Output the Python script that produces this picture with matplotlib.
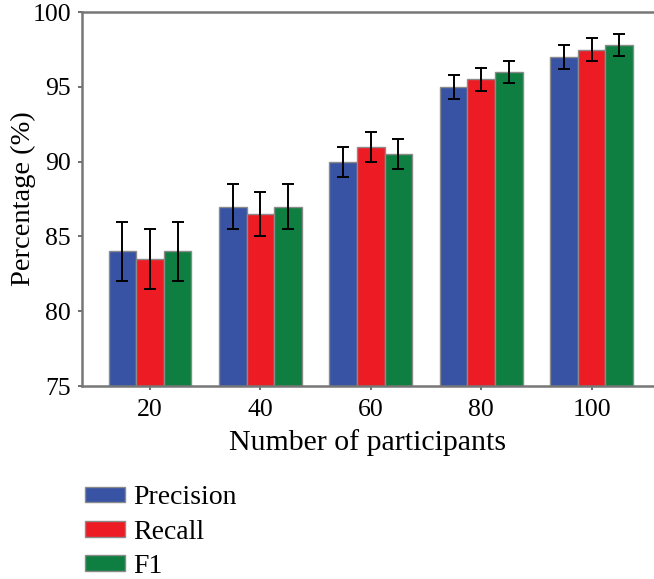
import numpy as np
import matplotlib
matplotlib.use("Agg")
import matplotlib.pyplot as plt

# Data
participants = ["20", "40", "60", "80", "100"]
precision = [84.0, 87.0, 90.0, 95.0, 97.0]
precision_err = [2.0, 1.5, 1.0, 0.8, 0.8]
recall = [83.5, 86.5, 91.0, 95.5, 97.5]
recall_err = [2.0, 1.5, 1.0, 0.75, 0.75]
f1 = [84.0, 87.0, 90.5, 96.0, 97.8]
f1_err = [2.0, 1.5, 1.0, 0.75, 0.75]

plt.rcParams["font.family"] = "serif"
plt.rcParams["font.serif"] = ["Liberation Serif", "Times New Roman", "DejaVu Serif"]

fig = plt.figure(figsize=(6.54, 5.79), dpi=100)
ax = fig.add_axes([0.1254, 0.3333, 0.8746, 0.6457])

x = np.arange(len(participants))
w = 0.25
series = [
    ("Precision", precision, precision_err, "#3953a4"),
    ("Recall", recall, recall_err, "#ed1c24"),
    ("F1", f1, f1_err, "#0f7f41"),
]
for i, (name, vals, errs, col) in enumerate(series):
    ax.bar(x + (i - 1) * w, vals, w, color=col, edgecolor="#8a8a8a", linewidth=1.0,
           label=name, yerr=errs, capsize=4.5,
           error_kw=dict(ecolor="black", elinewidth=1.4, capthick=1.4))

ax.set_ylim(75, 100)
ax.set_yticks([75, 80, 85, 90, 95, 100])
ax.set_xlim(-0.615, 4.565)
ax.set_xticks(x)
ax.set_xticklabels(participants)
ax.tick_params(axis="both", labelsize=18.5, direction="out", color="#555555", length=3, width=1.2)
ax.tick_params(axis="y", pad=5)
ax.tick_params(axis="x", pad=6)
ax.set_xlabel("Number of participants", fontsize=21.5, labelpad=6)
ax.set_ylabel("Percentage (%)", fontsize=20.5, labelpad=-3)
for s in ["left", "bottom", "top"]:
    ax.spines[s].set_color("#777777")
    ax.spines[s].set_linewidth(1.8)
ax.spines["right"].set_visible(False)

handles, labels = ax.get_legend_handles_labels()
leg = fig.legend(handles, labels, loc="upper left", bbox_to_anchor=(0.113, 0.181),
                 frameon=False, fontsize=20, handlelength=1.45, handleheight=0.5,
                 handletextpad=0.3, labelspacing=0.34, borderaxespad=0)

fig.savefig("out.png", dpi=100)
